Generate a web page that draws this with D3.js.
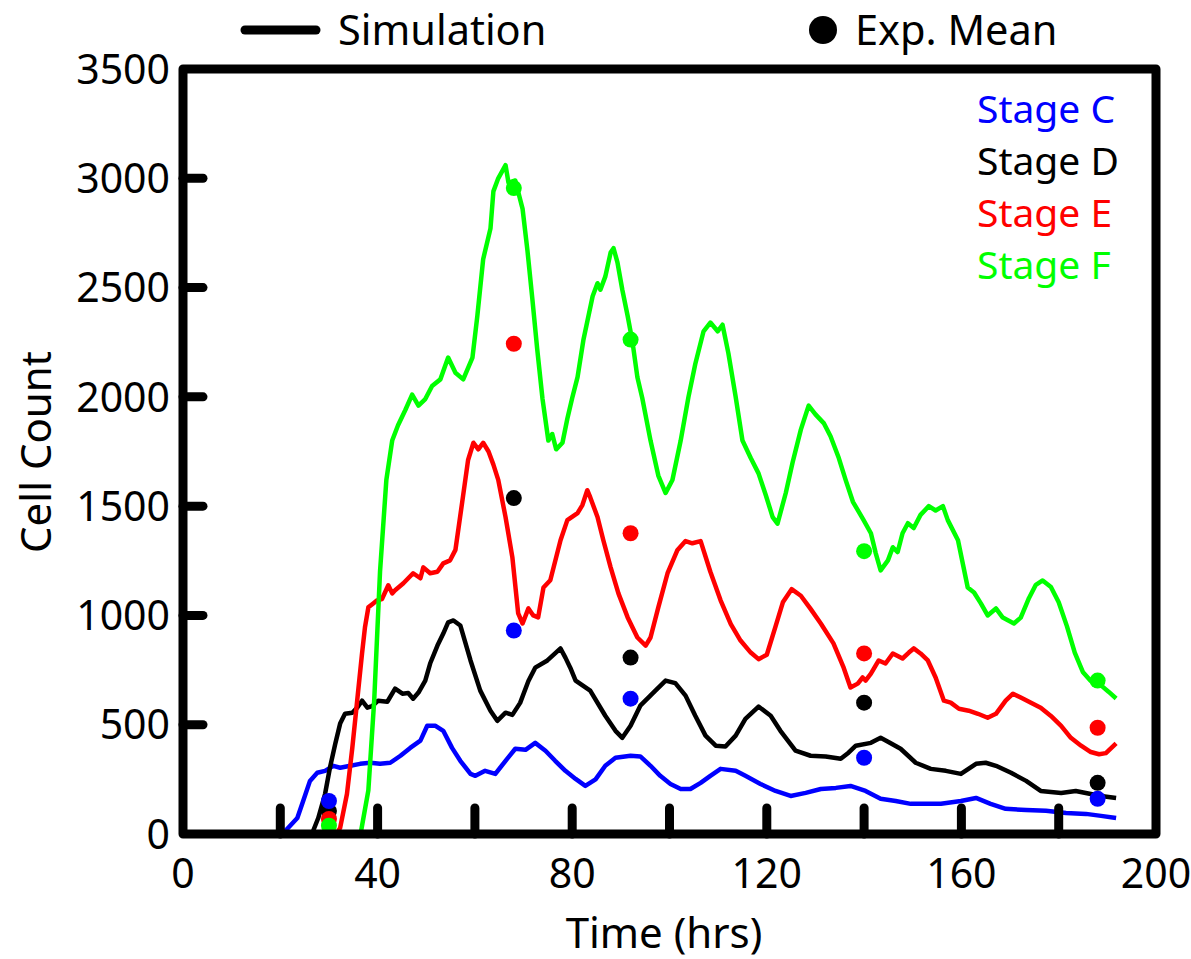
<!DOCTYPE html>
<html>
<head>
<meta charset="utf-8">
<script src="https://cdn.jsdelivr.net/npm/d3@7"></script>
<style>
  body { margin: 0; background: #fff; }
  text { font-family: "Noto Sans", "Open Sans", sans-serif; }
</style>
</head>
<body>
<div id="chart"></div>
<script>
//----------------------------DATA------------------------------//
// [time (hrs), cell count]
var stageC = [[0,0],[20.5,0],[21.4,23],[23.5,73],[24.7,151],[26.1,243],[27.6,280],[29.2,289],[30.9,312],[32.3,303],[34.4,312],[36.4,321],[38.5,326],[40.5,321],[42.6,326],[44.7,358],[46.7,394],[48.8,427],[50.2,495],[51.9,495],[53.5,472],[55.3,394],[57.0,335],[59.1,275],[60.1,266],[62.1,289],[64.2,275],[66.3,335],[68.3,390],[70.4,385],[72.4,417],[74.5,381],[76.5,335],[78.6,289],[80.7,252],[82.7,220],[84.8,250],[86.8,312],[88.9,349],[92.0,358],[94.0,355],[96.1,312],[98.1,266],[100.2,229],[102.3,206],[104.3,206],[106.4,234],[108.4,266],[110.5,298],[113.6,289],[115.6,266],[118.7,229],[121.8,197],[124.9,174],[128.0,188],[131.1,206],[134.2,211],[137.2,220],[140.3,197],[143.4,161],[146.5,151],[149.6,138],[152.7,138],[155.8,138],[159.9,151],[163.0,165],[166.0,138],[169.1,115],[173.3,110],[177.4,106],[181.5,96],[185.6,92],[188.7,83],[191.8,73]];

var stageD = [[0,0],[26.5,0],[27.8,73],[29.2,183],[30.2,303],[31.3,413],[32.3,505],[33.3,550],[34.8,555],[35.8,578],[36.8,610],[37.9,578],[38.9,585],[40.1,610],[42.0,605],[43.6,665],[45.1,642],[46.3,645],[47.3,619],[48.4,647],[49.8,702],[50.8,780],[52.3,862],[53.5,917],[54.5,968],[55.6,977],[57.0,954],[59.1,794],[61.1,656],[63.2,564],[64.6,518],[66.3,555],[67.7,545],[69.3,600],[71.0,700],[72.4,761],[74.9,794],[77.6,849],[78.6,807],[79.6,761],[80.7,702],[83.7,656],[86.8,541],[88.9,472],[90.3,440],[92.0,495],[94.0,587],[97.1,656],[99.2,702],[101.2,690],[103.3,633],[105.3,541],[107.4,450],[109.5,404],[111.5,400],[113.6,450],[115.6,527],[118.3,583],[120.8,541],[122.8,472],[125.9,381],[129.0,358],[132.1,355],[135.2,344],[136.8,372],[138.3,404],[141.4,417],[143.4,440],[145.1,420],[147.5,390],[150.6,326],[153.7,298],[156.8,289],[159.9,275],[163.0,321],[165.0,326],[167.1,312],[170.2,280],[173.3,243],[176.3,197],[180.5,188],[183.5,197],[186.6,183],[188.7,174],[191.8,165]];

var stageE = [[0,0],[31.5,0],[32.3,28],[33.7,183],[34.8,394],[35.8,610],[36.8,826],[37.4,945],[38.1,1037],[39.1,1055],[39.9,1069],[40.9,1075],[42.2,1138],[43.0,1101],[43.6,1115],[45.3,1147],[47.3,1193],[48.8,1170],[49.4,1220],[50.8,1193],[52.3,1200],[53.5,1238],[54.9,1252],[56.0,1300],[57.4,1520],[58.6,1711],[59.7,1790],[60.7,1760],[61.7,1790],[62.8,1750],[63.8,1690],[64.8,1620],[66.3,1450],[67.7,1266],[68.9,1009],[69.8,963],[71.0,1032],[72.0,1000],[73.0,991],[74.1,1128],[75.5,1161],[77.6,1344],[79.0,1436],[81.1,1468],[82.1,1505],[83.1,1573],[83.7,1541],[85.2,1450],[86.4,1344],[87.9,1220],[89.5,1101],[91.4,991],[93.4,899],[95.1,862],[96.1,899],[97.7,1037],[99.6,1193],[101.6,1298],[103.3,1340],[104.7,1330],[106.4,1340],[108.4,1200],[110.5,1069],[112.6,960],[114.6,885],[116.7,830],[118.3,800],[120.0,820],[121.8,950],[123.3,1060],[125.1,1120],[127.0,1090],[129.0,1030],[131.1,963],[133.7,872],[135.8,761],[137.2,670],[138.7,688],[139.7,716],[140.3,702],[141.4,734],[143.0,794],[144.4,780],[145.9,826],[147.9,803],[149.2,830],[150.2,849],[151.6,826],[153.1,794],[154.7,716],[156.4,610],[157.8,601],[159.5,573],[161.5,564],[163.4,550],[165.4,532],[167.1,550],[169.1,610],[170.6,642],[172.2,624],[174.3,600],[176.3,578],[178.4,540],[180.5,495],[182.5,440],[184.6,404],[186.6,375],[188.3,365],[189.7,370],[191.8,415]];

var stageF = [[0,0],[36.5,0],[38.1,200],[39.3,610],[40.5,1200],[41.8,1620],[43.0,1800],[44.2,1870],[45.7,1940],[47.1,2010],[48.4,1960],[49.8,1990],[51.2,2050],[52.9,2080],[54.5,2180],[56.0,2110],[57.6,2080],[59.5,2180],[60.5,2370],[61.7,2630],[63.2,2770],[63.8,2940],[64.8,3000],[66.3,3060],[66.9,2980],[68.3,2990],[69.8,2860],[70.8,2670],[71.8,2450],[72.8,2220],[73.9,1990],[75.1,1800],[75.9,1830],[76.7,1760],[78.0,1790],[79.0,1900],[80.0,1995],[81.1,2090],[82.3,2260],[84.2,2460],[85.2,2520],[85.8,2490],[86.8,2550],[87.9,2660],[88.5,2680],[89.3,2615],[90.3,2490],[91.4,2370],[92.4,2250],[93.4,2090],[94.4,1995],[96.1,1800],[97.7,1640],[99.2,1560],[100.6,1620],[102.3,1800],[103.9,2000],[105.3,2150],[107.0,2300],[108.4,2340],[109.9,2300],[110.9,2330],[112.1,2200],[113.6,2000],[115.0,1800],[116.7,1720],[118.3,1650],[119.8,1550],[121.2,1450],[122.2,1420],[123.9,1560],[125.3,1700],[127.0,1850],[128.6,1960],[130.0,1920],[131.7,1880],[133.1,1820],[134.8,1720],[136.2,1620],[137.7,1520],[139.9,1436],[141.4,1376],[142.4,1284],[143.4,1206],[144.9,1252],[145.9,1312],[146.9,1290],[147.9,1376],[149.0,1422],[150.2,1400],[151.6,1460],[153.3,1500],[154.7,1480],[156.2,1500],[157.2,1436],[159.3,1344],[161.3,1128],[162.6,1105],[164.0,1055],[165.4,1000],[167.1,1032],[168.5,990],[170.8,963],[172.2,990],[173.9,1080],[175.3,1140],[176.7,1160],[178.4,1130],[180.0,1060],[181.7,950],[183.3,830],[185.0,740],[186.6,700],[188.7,680],[190.3,650],[191.8,620]];

// experimental means
var expTimes = [30, 68, 92, 140, 188];
var expC = [151, 931, 619, 349, 161];
var expD = [105, 1537, 807, 601, 234];
var expE = [69, 2243, 1376, 826, 486];
var expF = [38, 2955, 2262, 1294, 702];

var stageNames = ["Stage C", "Stage D", "Stage E", "Stage F"];
var stageColors = ["#0000ff", "#000000", "#ff0000", "#00ff00"];

var xTicks = [0, 40, 80, 120, 160, 200];
var xMinorTicks = [20, 40, 60, 80, 100, 120, 140, 160, 180];
var yTicks = [0, 500, 1000, 1500, 2000, 2500, 3000, 3500];
var yInnerTicks = [500, 1000, 1500, 2000, 2500, 3000];

//---------------------------SETUP------------------------------//
var W = 1191, H = 959;
var svg = d3.select("#chart").append("svg")
    .attr("width", W)
    .attr("height", H);

var x = d3.scaleLinear().domain([0, 200]).range([183, 1156]);
var y = d3.scaleLinear().domain([0, 3500]).range([834, 69]);

var line = d3.line()
    .x(function(d) { return x(d[0]); })
    .y(function(d) { return y(d[1]); });

//---------------------------LINES------------------------------//
var series = [stageC, stageD, stageE, stageF];
svg.append("g").selectAll("path")
    .data(series)
    .enter()
    .append("path")
    .attr("d", line)
    .attr("fill", "none")
    .attr("stroke", function(d, i) { return stageColors[i]; })
    .attr("stroke-width", 4.5)
    .attr("stroke-linejoin", "round");

//---------------------------DOTS-------------------------------//
// draw order black, red, green, blue (blue sits on top)
var expAll = [expC, expD, expE, expF];
[1, 2, 3, 0].forEach(function(k) {
    svg.append("g").selectAll("circle")
        .data(expAll[k])
        .enter()
        .append("circle")
        .attr("cx", function(d, i) { return x(expTimes[i]); })
        .attr("cy", function(d) { return y(d); })
        .attr("r", 8)
        .attr("fill", stageColors[k]);
});

//---------------------------FRAME------------------------------//
svg.append("rect")
    .attr("x", x(0))
    .attr("y", y(3500))
    .attr("width", x(200) - x(0))
    .attr("height", y(0) - y(3500))
    .attr("fill", "none")
    .attr("stroke", "#000")
    .attr("stroke-width", 9)
    .attr("stroke-linejoin", "round");

// inward ticks
svg.append("g").selectAll("line")
    .data(yInnerTicks)
    .enter()
    .append("line")
    .attr("x1", x(0))
    .attr("x2", x(0) + 20)
    .attr("y1", function(d) { return y(d); })
    .attr("y2", function(d) { return y(d); })
    .attr("stroke", "#000")
    .attr("stroke-width", 9)
    .attr("stroke-linecap", "round");

svg.append("g").selectAll("line")
    .data(xMinorTicks)
    .enter()
    .append("line")
    .attr("x1", function(d) { return x(d); })
    .attr("x2", function(d) { return x(d); })
    .attr("y1", y(0))
    .attr("y2", y(0) - 26)
    .attr("stroke", "#000")
    .attr("stroke-width", 9)
    .attr("stroke-linecap", "round");

//---------------------------LABELS-----------------------------//
svg.append("g").selectAll("text")
    .data(xTicks)
    .enter()
    .append("text")
    .attr("x", function(d) { return x(d); })
    .attr("y", 888)
    .attr("text-anchor", "middle")
    .style("font-size", "41px")
    .text(function(d) { return d; });

svg.append("g").selectAll("text")
    .data(yTicks)
    .enter()
    .append("text")
    .attr("x", 170)
    .attr("y", function(d) { return y(d); })
    .attr("dy", "0.36em")
    .attr("text-anchor", "end")
    .style("font-size", "41px")
    .text(function(d) { return d; });

svg.append("text")
    .attr("x", 664)
    .attr("y", 948)
    .attr("text-anchor", "middle")
    .style("font-size", "42px")
    .text("Time (hrs)");

svg.append("text")
    .attr("transform", "translate(51,452) rotate(-90)")
    .attr("text-anchor", "middle")
    .style("font-size", "42px")
    .text("Cell Count");

//---------------------------LEGEND-----------------------------//
svg.append("line")
    .attr("x1", 245).attr("x2", 316)
    .attr("y1", 30).attr("y2", 30)
    .attr("stroke", "#000")
    .attr("stroke-width", 9)
    .attr("stroke-linecap", "round");

svg.append("text")
    .attr("x", 338)
    .attr("y", 45)
    .style("font-size", "41.5px")
    .text("Simulation");

svg.append("circle")
    .attr("cx", 823).attr("cy", 30)
    .attr("r", 14)
    .attr("fill", "#000");

svg.append("text")
    .attr("x", 855)
    .attr("y", 45)
    .style("font-size", "41.5px")
    .text("Exp. Mean");

svg.append("g").selectAll("text")
    .data(stageNames)
    .enter()
    .append("text")
    .attr("x", 977)
    .attr("y", function(d, i) { return 123 + i * 52; })
    .style("font-size", "39px")
    .attr("fill", function(d, i) { return stageColors[i]; })
    .text(function(d) { return d; });
</script>
</body>
</html>
